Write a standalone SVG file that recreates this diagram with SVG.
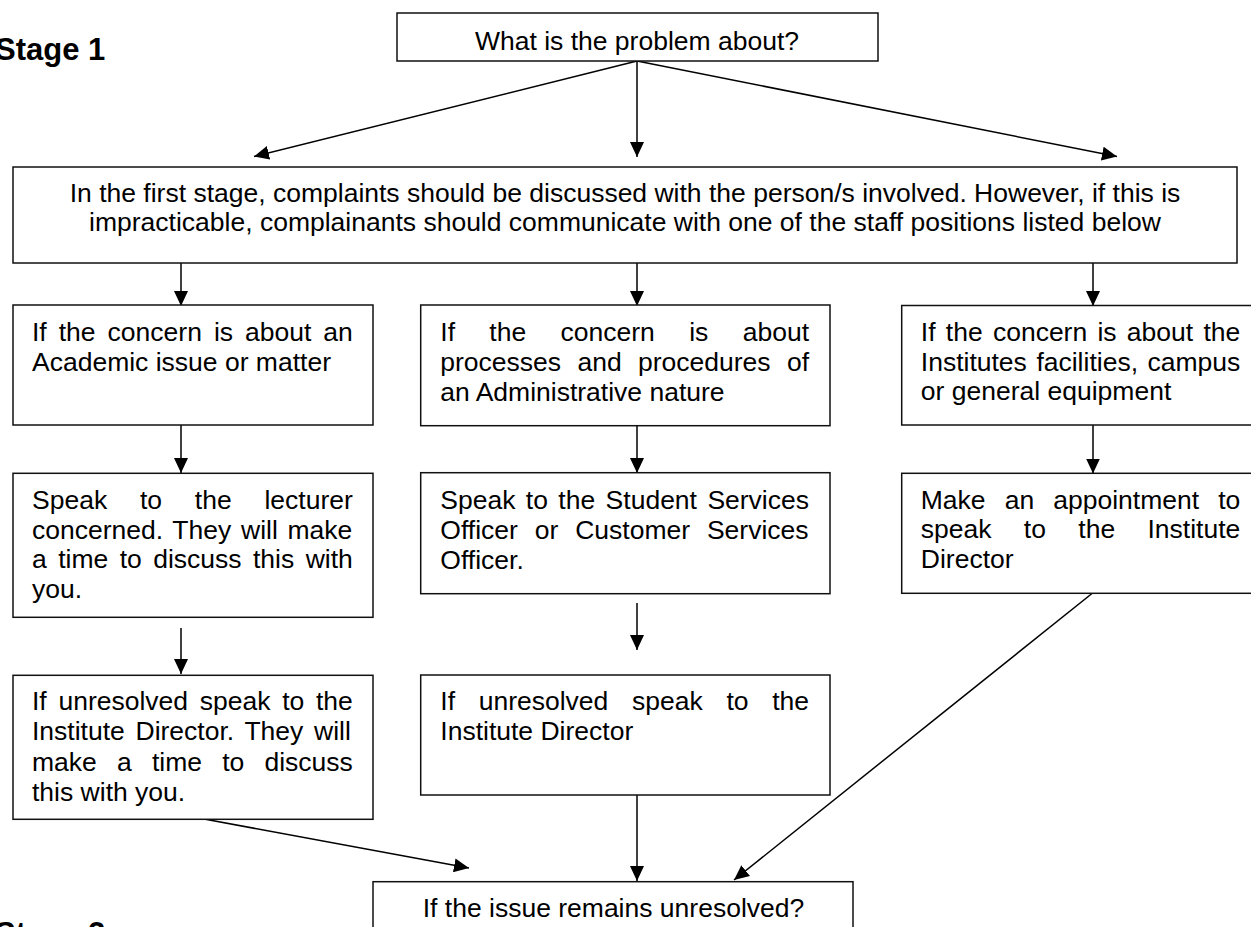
<svg xmlns="http://www.w3.org/2000/svg" width="1251" height="927" viewBox="0 0 1251 927">
<defs>
<style>
.box{fill:#fff;stroke:#111;stroke-width:1.5}
.t{font-family:"Liberation Sans",Arial,sans-serif;font-size:26.5px;fill:#000}
.c{text-anchor:middle}
.h{font-family:"Liberation Sans",Arial,sans-serif;font-size:31px;font-weight:bold;fill:#000}
.ln{stroke:#000;stroke-width:1.5;fill:none;marker-end:url(#ah)}
</style>
<marker id="ah" markerUnits="userSpaceOnUse" markerWidth="15" markerHeight="14" viewBox="0 0 15 14" refX="15" refY="7" orient="auto">
<path d="M0,0 L15,7 L0,14 z" fill="#000"/>
</marker>
</defs>
<rect width="1251" height="927" fill="#fff"/>

<text class="h" x="-5" y="60">Stage 1</text>
<text class="h" x="-5" y="944">Stage 2</text>

<g id="connectors">
<line class="ln" x1="637" y1="61" x2="254" y2="156.5"/>
<line class="ln" x1="637" y1="61" x2="637" y2="157"/>
<line class="ln" x1="637" y1="61" x2="1117" y2="156.5"/>
<line class="ln" x1="181" y1="263" x2="181" y2="306"/>
<line class="ln" x1="637" y1="263" x2="637" y2="306"/>
<line class="ln" x1="1093" y1="263" x2="1093" y2="306"/>
<line class="ln" x1="181" y1="425" x2="181" y2="473"/>
<line class="ln" x1="637" y1="426" x2="637" y2="473"/>
<line class="ln" x1="1093" y1="425" x2="1093" y2="473.5"/>
<line class="ln" x1="181" y1="628" x2="181" y2="674"/>
<line class="ln" x1="637" y1="603" x2="637" y2="650"/>
<line class="ln" x1="204" y1="819" x2="469" y2="868"/>
<line class="ln" x1="637" y1="795" x2="637" y2="881"/>
<line class="ln" x1="1092" y1="593.5" x2="734" y2="880"/>
</g>

<g id="n-top">
<rect class="box" x="397" y="13" width="481" height="48"/>
<text class="t c" x="637" y="49.5">What is the problem about?</text>
</g>

<g id="n-stage1">
<rect class="box" x="13" y="167" width="1224" height="96"/>
<text class="t c" x="625" y="201.5">In the first stage, complaints should be discussed with the person/s involved. However, if this is</text>
<text class="t c" x="625" y="230.5">impracticable, complainants should communicate with one of the staff positions listed below</text>
</g>

<g id="n-academic">
<rect class="box" x="13" y="305" width="360" height="120"/>
<text class="t" x="32" y="341" word-spacing="4.65">If the concern is about an</text>
<text class="t" x="32" y="370.7">Academic issue or matter</text>
</g>

<g id="n-admin">
<rect class="box" x="420.7" y="305" width="409.3" height="120.7"/>
<text class="t" x="440.3" y="341" word-spacing="26.99">If the concern is about</text>
<text class="t" x="440.3" y="370.7" word-spacing="9">processes and procedures of</text>
<text class="t" x="440.3" y="400.5">an Administrative nature</text>
</g>

<g id="n-facilities">
<rect class="box" x="901.7" y="305.5" width="360" height="119.5"/>
<text class="t" x="920.8" y="341" word-spacing="2.91">If the concern is about the</text>
<text class="t" x="920.8" y="370.7" word-spacing="2.17">Institutes facilities, campus</text>
<text class="t" x="920.8" y="400.2">or general equipment</text>
</g>

<g id="n-lecturer">
<rect class="box" x="13" y="473.3" width="360" height="144"/>
<text class="t" x="32" y="509" word-spacing="25.43">Speak to the lecturer</text>
<text class="t" x="32" y="538.7" word-spacing="2.37">concerned. They will make</text>
<text class="t" x="32" y="568.3" word-spacing="4.07">a time to discuss this with</text>
<text class="t" x="32" y="598.2">you.</text>
</g>

<g id="n-services">
<rect class="box" x="420.7" y="472.7" width="409.3" height="121"/>
<text class="t" x="440.3" y="509.2" word-spacing="3.05">Speak to the Student Services</text>
<text class="t" x="440.3" y="539" word-spacing="9.51">Officer or Customer Services</text>
<text class="t" x="440.3" y="568.8">Officer.</text>
</g>

<g id="n-appointment">
<rect class="box" x="901.7" y="473.3" width="360" height="120"/>
<text class="t" x="920.8" y="508.5" word-spacing="11.74">Make an appointment to</text>
<text class="t" x="920.8" y="538.3" word-spacing="24.99">speak to the Institute</text>
<text class="t" x="920.8" y="567.5">Director</text>
</g>

<g id="n-director-left">
<rect class="box" x="13" y="675.3" width="360" height="144"/>
<text class="t" x="32" y="710" word-spacing="4.34">If unresolved speak to the</text>
<text class="t" x="32" y="740" word-spacing="3.36">Institute Director. They will</text>
<text class="t" x="32" y="770.6" word-spacing="12.82">make a time to discuss</text>
<text class="t" x="32" y="800.6">this with you.</text>
</g>

<g id="n-director-mid">
<rect class="box" x="420.7" y="675" width="409.3" height="120"/>
<text class="t" x="440.3" y="710" word-spacing="16.31">If unresolved speak to the</text>
<text class="t" x="440.3" y="740">Institute Director</text>
</g>

<g id="n-unresolved">
<rect class="box" x="373" y="881.7" width="480" height="80"/>
<text class="t c" x="613.5" y="916.7">If the issue remains unresolved?</text>
</g>
</svg>
